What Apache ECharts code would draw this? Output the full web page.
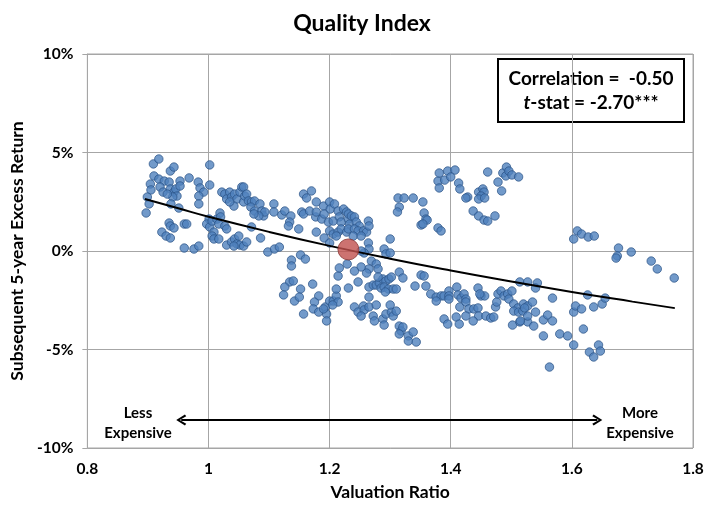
<!DOCTYPE html>
<html><head><meta charset="utf-8">
<script src="https://cdn.jsdelivr.net/npm/echarts@6/dist/echarts.min.js"></script>
<style>html,body{margin:0;padding:0;background:#fff}#c{width:724px;height:506px}</style>
</head><body><div id="c"></div>
<script>
// Scatter observations [valuation ratio, subsequent 5-year excess return %]
var clusterLeft = [
[0.909,4.42],[0.918,4.67],[0.937,4.06],[0.943,4.26],[0.910,3.81],[0.918,3.65],[0.927,3.55],[0.904,3.40],[0.905,3.10],[0.920,3.25],
[0.925,2.99],[0.935,3.50],[0.937,3.15],[0.943,2.99],[0.946,3.15],[0.953,3.55],[0.953,3.30],[0.948,2.79],[0.941,2.74],[0.932,2.89],
[0.968,3.71],[0.983,3.50],[0.986,3.20],[0.992,2.99],[0.984,2.79],[1.002,3.35],[1.002,4.37],[0.899,2.74],[0.902,2.39],[0.897,1.93],
[0.938,2.39],[0.951,2.18],[0.984,2.39],[0.935,1.42],[0.937,1.27],[0.943,1.17],[0.960,1.37],[0.964,1.37],[0.923,0.96],[0.930,0.76],
[0.937,0.66],[0.960,0.15],[0.976,0.10],[0.984,0.25],[1.001,1.62],[0.997,1.37],[1.002,1.22],[1.006,1.52],[1.014,1.62],[1.019,1.93],
[1.020,1.73],[1.017,1.37],[1.027,1.27],[1.030,1.12],[1.009,0.96],[1.006,0.76],[1.009,0.61],[1.017,0.61],[1.030,0.30],[1.038,0.46],
[1.043,0.61],[1.047,0.36],[1.052,0.30],[1.058,0.25],[1.050,0.76],[1.042,0.25],[1.022,2.99],[1.027,2.89],[1.030,2.64],[1.035,2.99],
[1.038,2.74],[1.043,2.89],[1.047,2.64],[1.042,2.28],[1.035,2.49],[1.052,2.99],[1.055,3.25],[1.058,2.49],[1.060,2.79]
];
var clusterMidLeft = [
[1.058,3.25],[1.063,2.89],[1.066,2.54],[1.071,2.49],[1.076,2.54],[1.070,2.23],[1.076,2.03],[1.085,2.39],[1.088,2.03],[1.091,1.78],
[1.093,1.98],[1.083,1.78],[1.075,1.88],[1.108,2.39],[1.108,1.98],[1.121,1.83],[1.126,2.03],[1.136,1.78],[1.134,1.47],[1.132,1.27],
[1.149,1.12],[1.154,1.98],[1.157,1.88],[1.157,2.89],[1.162,2.69],[1.170,3.05],[1.167,2.03],[1.178,2.49],[1.177,1.73],[1.178,1.98],
[1.187,1.62],[1.190,2.28],[1.191,1.88],[1.198,1.47],[1.200,2.49],[1.201,2.13],[1.206,1.52],[1.208,2.39],[1.214,2.03],[1.216,1.73],
[1.219,1.47],[1.223,2.13],[1.228,1.98],[1.231,1.62],[1.233,1.37],[1.200,1.02],[1.206,0.86],[1.214,0.96],[1.219,1.12],[1.228,0.96],
[1.231,1.12],[1.178,0.96],[1.191,0.66],[1.200,0.41],[1.211,0.76],[1.071,1.22],[1.063,0.46],[1.086,0.66],[1.098,-0.05],[1.109,0.10],
[1.117,0.20],[1.137,-0.46],[1.137,-0.76],[1.152,-0.20],[1.160,-0.41],[1.134,-1.57],[1.140,-1.52],[1.126,-1.83],[1.124,-2.23],[1.142,-2.54],
[1.152,-1.93],[1.150,-2.34],[1.172,-1.68],[1.182,-2.28],[1.175,-2.59],[1.173,-2.94],[1.182,-3.10],[1.193,-2.84],[1.200,-2.54],[1.206,-2.54],
[1.211,-2.28],[1.214,-2.59],[1.211,-1.93],[1.214,-1.27],[1.216,-0.86],[1.229,-0.66],[1.231,-1.88],[1.157,-3.20],[1.195,-3.20],[1.195,-3.55],
[1.190,-2.94],[1.205,-2.74]
];
var clusterMid = [
[1.379,3.55],[1.381,3.20],[1.313,2.69],[1.323,2.69],[1.338,2.69],[1.354,2.49],[1.315,2.23],[1.312,1.98],[1.356,1.93],[1.359,1.62],
[1.351,1.32],[1.379,1.17],[1.384,1.02],[1.231,1.88],[1.236,1.78],[1.241,1.73],[1.244,1.47],[1.249,1.27],[1.241,1.12],[1.247,1.02],
[1.256,1.02],[1.261,0.96],[1.264,1.52],[1.265,1.27],[1.239,0.76],[1.252,0.76],[1.264,0.41],[1.265,0.10],[1.257,-0.10],[1.252,0.00],
[1.290,0.10],[1.293,-0.15],[1.300,-0.10],[1.300,0.61],[1.269,-0.51],[1.277,-0.66],[1.280,-0.91],[1.265,-0.91],[1.261,-1.12],[1.252,-0.81],
[1.241,-1.02],[1.247,-1.57],[1.265,-1.83],[1.272,-1.73],[1.277,-1.73],[1.282,-1.62],[1.288,-1.42],[1.293,-1.52],[1.298,-1.42],[1.302,-1.32],
[1.285,-1.88],[1.290,-1.83],[1.297,-1.93],[1.305,-1.93],[1.310,-1.93],[1.292,-2.08],[1.280,-1.32],[1.315,-1.07],[1.321,-1.37],[1.351,-1.22],
[1.356,-1.27],[1.341,-1.78],[1.359,-1.78],[1.367,-2.18],[1.376,-2.34],[1.384,-2.28],[1.389,-2.28],[1.265,-2.34],[1.241,-2.84],[1.247,-3.10],
[1.256,-2.79],[1.257,-2.99],[1.252,-3.30],[1.265,-2.84],[1.277,-2.74],[1.272,-3.30],[1.274,-3.55],[1.288,-3.45],[1.290,-3.76],[1.293,-3.20],
[1.302,-3.10],[1.305,-3.30],[1.310,-3.05],[1.300,-2.74],[1.315,-3.81],[1.318,-4.06],[1.321,-3.86],[1.315,-4.21],[1.330,-4.31],[1.330,-4.57],
[1.338,-4.11],[1.343,-4.62],[1.389,-3.45]
];
var clusterMidRight = [
[1.381,3.96],[1.395,4.06],[1.407,4.11],[1.390,3.60],[1.400,3.76],[1.413,3.45],[1.415,3.15],[1.428,2.74],[1.425,2.69],[1.446,2.99],
[1.453,3.15],[1.455,2.99],[1.450,2.79],[1.446,2.64],[1.456,2.69],[1.437,2.03],[1.446,1.78],[1.455,1.57],[1.461,1.52],[1.473,1.78],
[1.461,4.01],[1.478,3.50],[1.484,3.05],[1.486,3.96],[1.491,3.81],[1.492,4.26],[1.496,4.06],[1.501,3.86],[1.512,3.76],[1.361,1.57],
[1.354,1.37],[1.376,-2.54],[1.397,-2.03],[1.397,-2.28],[1.397,-2.44],[1.410,-1.83],[1.412,-2.23],[1.417,-2.39],[1.415,-2.84],[1.422,-2.18],
[1.425,-2.44],[1.425,-2.59],[1.445,-1.88],[1.450,-2.28],[1.456,-2.28],[1.448,-2.18],[1.430,-2.94],[1.438,-2.94],[1.445,-2.89],[1.446,-3.30],
[1.425,-3.30],[1.409,-3.35],[1.414,-3.71],[1.395,-3.71],[1.437,-3.55],[1.458,-3.30],[1.466,-3.40],[1.471,-3.35],[1.474,-2.84],[1.476,-2.59],
[1.478,-2.18],[1.483,-2.03],[1.488,-2.28],[1.494,-2.18],[1.496,-2.44],[1.501,-2.03],[1.504,-2.69],[1.511,-2.89],[1.504,-3.05],[1.512,-3.10],
[1.519,-3.05],[1.520,-2.69],[1.527,-2.79],[1.502,-3.76],[1.514,-3.60],[1.514,-1.57],[1.527,-1.57],[1.527,-3.60]
];
var clusterRight = [
[1.609,1.02],[1.616,0.86],[1.603,0.61],[1.627,0.71],[1.637,0.76],[1.677,0.15],[1.675,-0.25],[1.673,-0.36],[1.698,-0.05],[1.731,-0.51],
[1.741,-0.91],[1.769,-1.37],[1.543,-1.62],[1.540,-1.88],[1.535,-2.59],[1.568,-2.39],[1.522,-2.89],[1.527,-3.30],[1.540,-3.10],[1.515,-3.55],
[1.537,-3.81],[1.553,-3.50],[1.560,-3.25],[1.568,-3.55],[1.553,-4.31],[1.580,-4.21],[1.593,-4.31],[1.603,-3.10],[1.606,-2.79],[1.616,-2.94],
[1.626,-2.23],[1.636,-2.84],[1.650,-2.69],[1.655,-2.39],[1.619,-3.96],[1.603,-4.77],[1.629,-5.13],[1.644,-4.77],[1.647,-5.08],[1.636,-5.38],
[1.563,-5.89]
];
var currentPoint = [[1.231, 0.08]];
var trendX = [0.895, 0.95, 1.0, 1.1, 1.2, 1.3, 1.4, 1.5, 1.6, 1.7, 1.77];
var trendY = [2.64, 2.17, 1.74, 0.97, 0.26, -0.39, -0.99, -1.55, -2.08, -2.57, -2.90];
var xTicks = [0.8, 1, 1.2, 1.4, 1.6, 1.8];
var yTicks = [-10, -5, 0, 5, 10];
var arrowSpan = [0.955, 1.642];
var arrowLevel = -8.58;

var FONT = 'Lato, "Open Sans", sans-serif';
var allPoints = clusterLeft.concat(clusterMidLeft, clusterMid, clusterMidRight, clusterRight);
var trendData = trendX.map(function (x, i) { return [x, trendY[i]]; });
var chevron = 'path://M5,0 L10,8 L8.4,9.2 L5,3.2 L1.6,9.2 L0,8 Z';

var chart = echarts.init(document.getElementById('c'), null, {renderer: 'canvas'});
chart.setOption({
  animation: false,
  backgroundColor: '#fff',
  title: {text: 'Quality Index', left: 'center', top: 7,
    textStyle: {fontFamily: FONT, fontWeight: 'bold', fontSize: 23, color: '#000'}},
  grid: {left: 85, right: 31, top: 54, bottom: 56, show: true, borderColor: '#a6a6a6', borderWidth: 1},
  xAxis: {type: 'value', min: xTicks[0], max: xTicks[xTicks.length - 1], interval: 0.2,
    name: 'Valuation Ratio', nameLocation: 'middle', nameGap: 35,
    nameTextStyle: {fontFamily: FONT, fontWeight: 'bold', fontSize: 17.5, color: '#000'},
    axisLine: {show: true, lineStyle: {color: '#a6a6a6'}}, axisTick: {show: false},
    splitLine: {show: true, lineStyle: {color: '#a6a6a6', width: 1}},
    axisLabel: {fontFamily: FONT, fontWeight: 'bold', fontSize: 15.5, color: '#000', margin: 13,
      formatter: function (v) { return String(Math.round(v * 10) / 10); }}},
  yAxis: {type: 'value', min: yTicks[0], max: yTicks[yTicks.length - 1], interval: 5,
    name: 'Subsequent 5-year Excess Return', nameLocation: 'middle', nameGap: 51, nameRotate: 90,
    nameTextStyle: {fontFamily: FONT, fontWeight: 'bold', fontSize: 17.5, color: '#000'},
    axisLine: {show: true, lineStyle: {color: '#a6a6a6'}},
    axisTick: {show: true, length: 5, lineStyle: {color: '#a6a6a6'}},
    splitLine: {show: true, lineStyle: {color: '#a6a6a6', width: 1}},
    axisLabel: {fontFamily: FONT, fontWeight: 'bold', fontSize: 15.5, color: '#000', margin: 14,
      formatter: function (v) { return v + '%'; }}},
  series: [
    {type: 'scatter', data: allPoints, symbolSize: 8.5, z: 3,
      itemStyle: {color: '#4f81bd', borderColor: '#2a5286', borderWidth: 0.9}},
    {type: 'line', data: trendData, smooth: true, showSymbol: false, z: 4,
      lineStyle: {color: '#000', width: 2},
      markLine: {silent: true, symbol: [chevron, chevron], symbolSize: [11, 10],
        lineStyle: {color: '#000', width: 2, type: 'solid'}, label: {show: false},
        data: [[{coord: [arrowSpan[0], arrowLevel]}, {coord: [arrowSpan[1], arrowLevel]}]]}},
    {type: 'scatter', data: currentPoint, symbolSize: 21, z: 5,
      itemStyle: {color: '#c0504d', borderColor: '#8c3836', borderWidth: 1}}
  ],
  graphic: [
    {type: 'group', left: 497, top: 58, z: 10, children: [
      {type: 'rect', shape: {x: 0, y: 0, width: 186, height: 63},
        style: {fill: '#fff', stroke: '#000', lineWidth: 2}},
      {type: 'text', x: 93, y: 10, style: {text: 'Correlation =  -0.50', align: 'center',
        fontFamily: FONT, fontWeight: 'bold', fontSize: 19, fill: '#000'}},
      {type: 'text', x: 93, y: 34, style: {text: '{i|t}-stat = -2.70***', align: 'center',
        fontFamily: FONT, fontWeight: 'bold', fontSize: 19, fill: '#000',
        rich: {i: {fontStyle: 'italic', fontFamily: FONT, fontWeight: 'bold', fontSize: 19}}}}
    ]},
    {type: 'text', x: 138, y: 403, z: 10, style: {text: 'Less\nExpensive', align: 'center',
      lineHeight: 20, fontFamily: FONT, fontWeight: 'bold', fontSize: 15, fill: '#000'}},
    {type: 'text', x: 640, y: 403, z: 10, style: {text: 'More\nExpensive', align: 'center',
      lineHeight: 20, fontFamily: FONT, fontWeight: 'bold', fontSize: 15, fill: '#000'}}
  ]
});
</script></body></html>
